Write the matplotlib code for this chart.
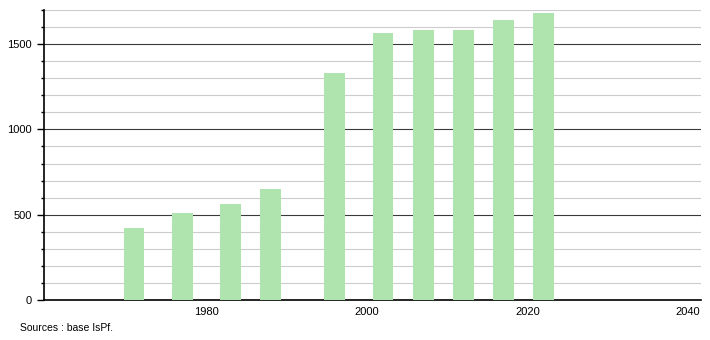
import matplotlib.pyplot as plt
from matplotlib.ticker import MultipleLocator

plt.rcParams['font.family'] = ['Liberation Sans', 'DejaVu Sans']

# census years and values
years = [1971, 1977, 1983, 1988, 1996, 2002, 2007, 2012, 2017, 2022]
values = [423, 512, 565, 651, 1329, 1565, 1582, 1582, 1641, 1682]
xticks = [1980, 2000, 2020, 2040]

fig = plt.figure(figsize=(7.1, 3.4), dpi=100)
ax = fig.add_axes([44 / 710, 40 / 340, 657 / 710, 290 / 340])

ax.bar(years, values, width=2.6, color='#afe4af', zorder=3)

ax.set_xlim(1959.8, 2041.6)
ax.set_ylim(0, 1700)
ax.set_xticks(xticks)
ax.yaxis.set_major_locator(MultipleLocator(500))
ax.yaxis.set_minor_locator(MultipleLocator(100))

ax.grid(axis='y', which='minor', color='#cccccc', linewidth=0.8, zorder=1)
ax.grid(axis='y', which='major', color='#3a3a3a', linewidth=0.8, zorder=2)
ax.tick_params(axis='x', length=0, labelsize=8, pad=5)
ax.tick_params(axis='y', which='major', length=5, width=1, labelsize=8, pad=4)
ax.tick_params(axis='y', which='minor', length=2.5, width=1)

for s in ['top', 'right']:
    ax.spines[s].set_visible(False)
ax.spines['left'].set_linewidth(1.2)
ax.spines['bottom'].set_linewidth(1.2)

fig.text(20 / 710, 1 - 328 / 340, 'Sources : base IsPf.', fontsize=7.5, va='center')

fig.savefig('out.png', dpi=100)
